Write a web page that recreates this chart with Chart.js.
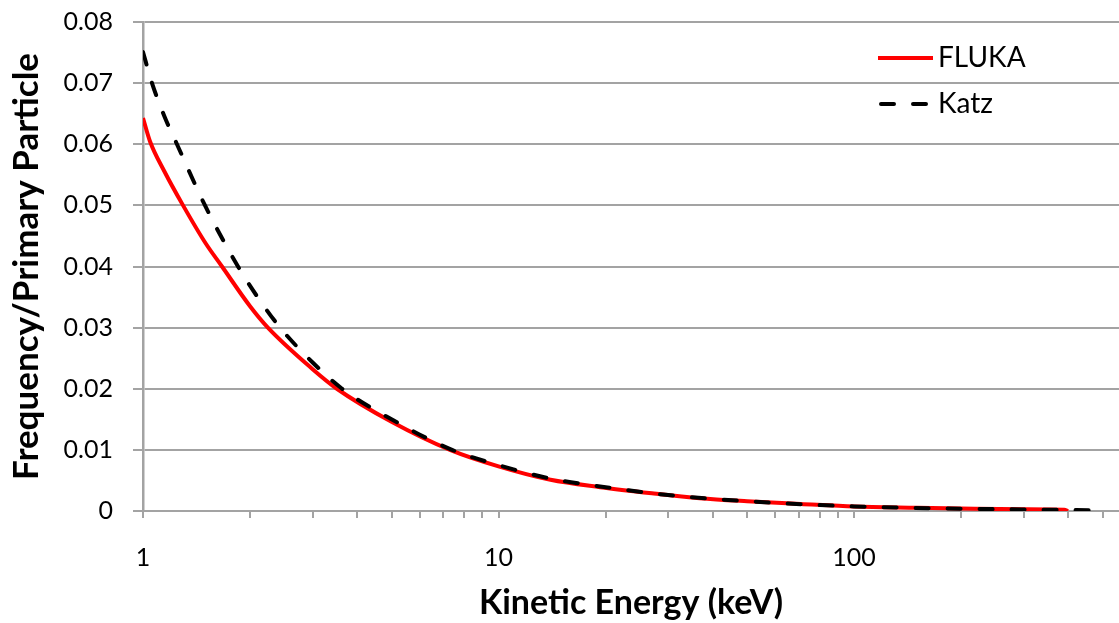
<!DOCTYPE html>
<html>
<head>
<meta charset="utf-8">
<script src="https://cdn.jsdelivr.net/npm/chart.js@4.4.1/dist/chart.umd.min.js"></script>
<style>
  html, body { margin: 0; padding: 0; background: #fff; }
  #wrap { width: 1119px; height: 623px; position: relative; }
</style>
</head>
<body>
<div id="wrap"><canvas id="c" width="1119" height="623"></canvas></div>
<script>
// ---- data ----
const flukaEnergy = [1, 1.046, 1.15, 1.296, 1.5, 1.668, 2, 2.245, 3, 3.51, 5, 7.3, 10, 14, 19.3, 27, 36.8, 50, 70.7, 100, 150, 200, 300, 390, 400];
const flukaFreq   = [0.0643, 0.0605, 0.0555, 0.050, 0.0438, 0.040, 0.0335, 0.030, 0.0232, 0.020, 0.0146, 0.010, 0.0073, 0.0051, 0.0039, 0.0029, 0.0021, 0.0016, 0.00115, 0.00072, 0.00052, 0.0004, 0.00028, 0.0002, 0];

const katzEnergy = [1, 1.06, 1.15, 1.246, 1.494, 1.85, 2.1, 2.43, 3, 3.63, 5, 7.4, 10, 14, 20, 30, 50, 100, 200, 300, 500];
const katzFreq   = [0.0751, 0.070, 0.0645, 0.060, 0.050, 0.040, 0.0350, 0.030, 0.0243, 0.020, 0.0150, 0.010, 0.0075, 0.0053, 0.0039, 0.0026, 0.0016, 0.00075, 0.00038, 0.00025, 0.00012];

const seriesNames = ['FLUKA', 'Katz'];
const xTickValues = [1,2,3,4,5,6,7,8,9,10,20,30,40,50,60,70,80,90,100,200,300,400,500];
const xTickLabels = ['1', '10', '100'];
const yTickValues = [0, 0.01, 0.02, 0.03, 0.04, 0.05, 0.06, 0.07, 0.08];
const xTitle = 'Kinetic Energy (keV)';
const yTitle = 'Frequency/Primary Particle';

const toPts = (xs, ys) => xs.map((x, i) => ({x: x, y: ys[i]}));
const FONT = 'Lato, "Open Sans", sans-serif';
const GRID = '#a3a3a3';

const legendPlugin = {
  id: 'insideLegend',
  afterDraw(chart) {
    const ctx = chart.ctx;
    const x0 = 878, x1 = 933, tx = 938;
    const rows = [58, 104];
    chart.data.datasets.forEach((ds, i) => {
      const y = rows[i];
      ctx.save();
      ctx.strokeStyle = ds.borderColor;
      ctx.lineWidth = ds.borderWidth;
      ctx.lineCap = ds.borderCapStyle || 'butt';
      ctx.setLineDash(ds.borderDash || []);
      ctx.beginPath();
      ctx.moveTo(x0 + (ds.borderDash ? 3 : 0), y);
      ctx.lineTo(x1, y);
      ctx.stroke();
      ctx.setLineDash([]);
      ctx.fillStyle = '#000';
      ctx.font = '28px ' + FONT;
      ctx.textBaseline = 'middle';
      ctx.textAlign = 'left';
      ctx.fillText(ds.label, tx, y);
      ctx.restore();
    });
  }
};

new Chart(document.getElementById('c'), {
  type: 'line',
  data: {
    datasets: [
      {
        label: seriesNames[0],
        data: toPts(flukaEnergy, flukaFreq),
        borderColor: '#ff0000',
        borderWidth: 4,
        pointRadius: 0,
        cubicInterpolationMode: 'monotone',
        fill: false,
        order: 1
      },
      {
        label: seriesNames[1],
        data: toPts(katzEnergy, katzFreq),
        borderColor: '#000000',
        borderWidth: 4,
        borderDash: [13, 19],
        borderCapStyle: 'round',
        pointRadius: 0,
        cubicInterpolationMode: 'monotone',
        fill: false,
        order: 0
      }
    ]
  },
  options: {
    responsive: false,
    animation: false,
    devicePixelRatio: 1,
    layout: { padding: { top: 22, right: 0, left: 0, bottom: 0 } },
    plugins: {
      legend: { display: false },
      tooltip: { enabled: false }
    },
    scales: {
      x: {
        type: 'logarithmic',
        min: 1,
        max: 556,
        afterFit: s => { s.height = 112; s.paddingLeft = 0; s.paddingRight = 0; },
        afterBuildTicks: s => { s.ticks = xTickValues.map(v => ({value: v})); },
        grid: { drawOnChartArea: false, drawTicks: true, tickLength: 7, color: GRID, lineWidth: 2 },
        border: { display: true, color: GRID, width: 2 },
        ticks: {
          autoSkip: false,
          maxRotation: 0,
          padding: 25,
          color: '#000',
          font: { family: FONT, size: 25 },
          callback: v => xTickLabels.includes(String(v)) ? String(v) : ''
        },
        title: {
          display: true,
          text: xTitle,
          color: '#000',
          font: { family: FONT, size: 34, weight: 'bold' },
          padding: { top: 0, bottom: 0 }
        }
      },
      y: {
        min: 0,
        max: 0.08,
        afterFit: s => { s.width = 143; s.paddingTop = 0; s.paddingBottom = 0; },
        afterBuildTicks: s => { s.ticks = yTickValues.map(v => ({value: v})); },
        grid: { drawTicks: true, tickLength: 10, color: GRID, lineWidth: 2 },
        border: { display: true, color: GRID, width: 2.5 },
        ticks: {
          padding: 20,
          color: '#000',
          font: { family: FONT, size: 25 },
          callback: v => v === 0 ? '0' : v.toFixed(2)
        },
        title: {
          display: true,
          text: yTitle,
          color: '#000',
          font: { family: FONT, size: 35, weight: 'bold' },
          padding: { top: 6, bottom: 0 }
        }
      }
    }
  },
  plugins: [legendPlugin]
});
</script>
</body>
</html>
